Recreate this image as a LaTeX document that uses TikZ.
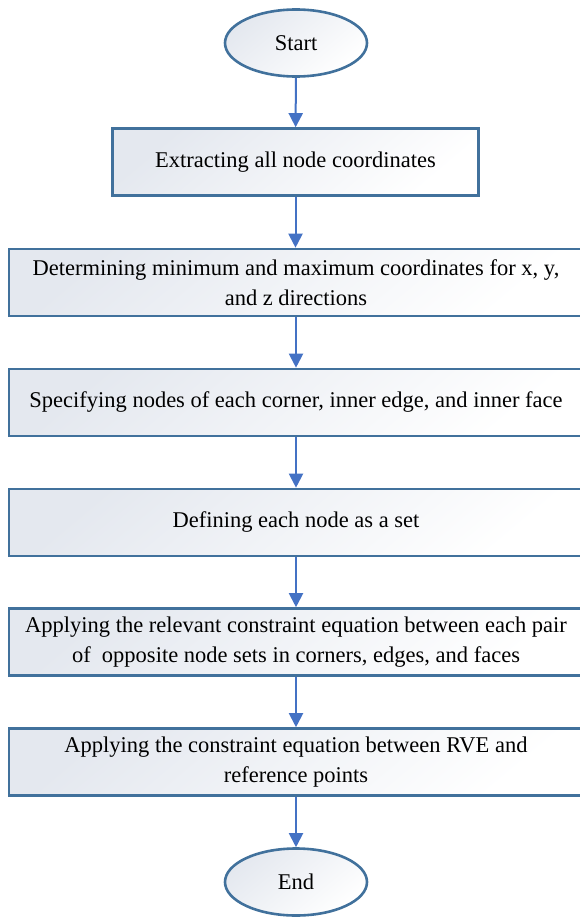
\documentclass[tikz,border=0pt]{standalone}
\usepackage{fontspec}
\setmainfont{Liberation Serif}
\usetikzlibrary{shapes.geometric,arrows.meta}
\definecolor{edgeblue}{HTML}{41719C}
\definecolor{arrowblue}{HTML}{4472C4}
\definecolor{fillgray}{HTML}{E4E8EF}
\tikzset{
  flowbox/.style={rectangle, draw=edgeblue, line width=2.6pt,
    top color=fillgray, bottom color=white, shading angle=40,
    minimum height=67pt, inner sep=0pt, align=center,
    font=\fontsize{22.5}{29.5}\selectfont},
  termnode/.style={ellipse, draw=edgeblue, line width=2.6pt,
    top color=fillgray, bottom color=white, shading angle=40,
    minimum width=142pt, minimum height=67pt, inner sep=0pt,
    font=\fontsize{22.5}{29.5}\selectfont},
  flowarrow/.style={draw=arrowblue, line width=2pt,
    -{Triangle[width=14pt,length=14pt]}}
}
\begin{document}
\begin{tikzpicture}[x=1pt,y=-1pt]
\useasboundingbox (0,0) rectangle (580,917);
\clip (0,0) rectangle (580,917);
\node[termnode] (start) at (296,43) {Start};
\node[flowbox, minimum width=366pt] (b1) at (295.5,162) {Extracting all node coordinates};
\node[flowbox, minimum width=574pt] (b2) at (296,282.5) {Determining minimum and maximum coordinates for x, y,\\ and z directions};
\node[flowbox, minimum width=574pt] (b3) at (296,402.5) {Specifying nodes of each corner, inner edge, and inner face};
\node[flowbox, minimum width=574pt] (b4) at (296,522.5) {Defining each node as a set};
\node[flowbox, minimum width=574pt] (b5) at (296,642) {Applying the relevant constraint equation between each pair\\ of\ \ opposite node sets in corners, edges, and faces};
\node[flowbox, minimum width=574pt] (b6) at (296,762) {Applying the constraint equation between RVE and\\ reference points};
\node[termnode] (end) at (296,882) {End};
\draw[flowarrow] (start) -- (b1);
\draw[flowarrow] (b1) -- (b2.north -| b1.south);
\draw[flowarrow] (b2) -- (b3);
\draw[flowarrow] (b3) -- (b4);
\draw[flowarrow] (b4) -- (b5);
\draw[flowarrow] (b5) -- (b6);
\draw[flowarrow] (b6) -- (end);
\end{tikzpicture}
\end{document}
